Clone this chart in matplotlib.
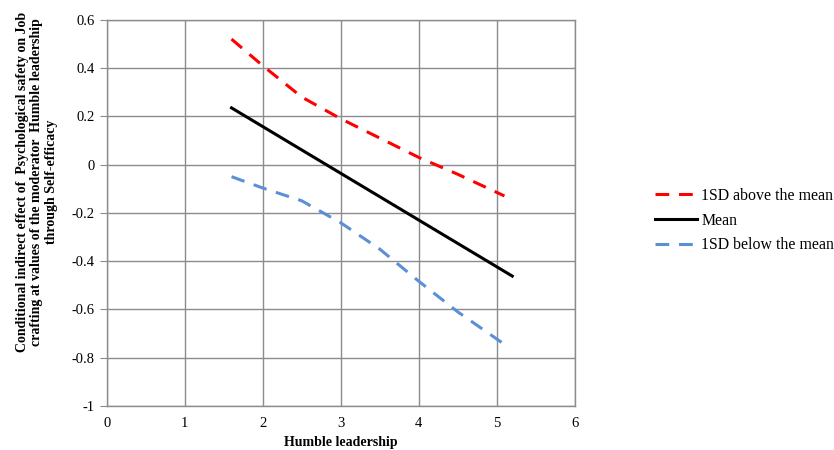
import numpy as np
import matplotlib.pyplot as plt

plt.rcParams["font.family"] = ["Liberation Serif", "DejaVu Serif"]

# valores
x_above = [1.6, 2.0, 2.5, 3.0, 3.5, 4.0, 4.5, 5.1]
y_above = [0.52, 0.41, 0.28, 0.19, 0.11, 0.03, -0.04, -0.13]

x_mean = [1.6, 5.2]
y_mean = [0.235, -0.462]

x_below = [1.6, 2.0, 2.5, 3.0, 3.5, 4.0, 4.5, 5.1]
y_below = [-0.05, -0.097, -0.15, -0.241, -0.35, -0.483, -0.61, -0.745]

labels = ["1SD above the mean", "Mean", "1SD below the mean"]
grid_col = "#8c8c8c"

fig = plt.figure(figsize=(8.34, 4.5), dpi=100)
ax = fig.add_axes([0.128, 0.098, 0.561, 0.858])

ax.plot(x_above, y_above, color="#ff0000", lw=2.2, dashes=(4.5, 3.2), label=labels[0])
ax.plot(x_mean, y_mean, color="black", lw=2.2, label=labels[1])
ax.plot(x_below, y_below, color="#5b8fd6", lw=2.2, dashes=(4.5, 3.2), label=labels[2])

ax.set_xlim(0, 6)
ax.set_ylim(-1, 0.6)
ax.set_xticks(np.arange(0, 7, 1))
ax.set_yticks(np.arange(-1, 0.61, 0.2))
ax.set_yticklabels(["-1", "-0.8", "-0.6", "-0.4", "-0.2", "0", "0.2", "0.4", "0.6"])
ax.grid(True, color=grid_col, lw=1.0)
ax.set_axisbelow(True)
for s in ax.spines.values():
    s.set_color(grid_col)
    s.set_linewidth(1.0)
ax.tick_params(axis="y", length=5, color=grid_col, labelsize=10.5, pad=4)
ax.tick_params(axis="x", length=0, labelsize=10.5, pad=8)

ax.set_xlabel("Humble leadership", fontsize=10, fontweight="bold", labelpad=4)
ax.set_ylabel("Conditional indirect effect of  Psychological safety on Job\n"
              "crafting at values of the moderator  Humble leadership\n"
              "through Self-efficacy",
              fontsize=10, fontweight="bold", linespacing=1.15)
ax.yaxis.set_label_coords(-0.105, 0.58)

ax.legend(loc="center left", bbox_to_anchor=(1.171, 0.48), frameon=False,
          fontsize=11.4, handlelength=2.65, handletextpad=0.3, labelspacing=0.55,
          borderpad=0, borderaxespad=0)

plt.savefig("out.png", dpi=100)
